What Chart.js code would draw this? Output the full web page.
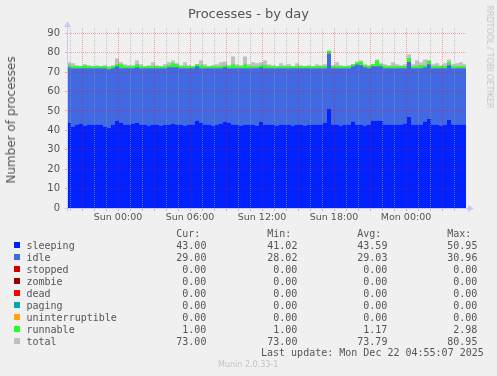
<!DOCTYPE html>
<html>
<head>
<meta charset="utf-8">
<title>Processes - by day</title>
<script src="https://cdn.jsdelivr.net/npm/chart.js@4.4.1/dist/chart.umd.min.js"></script>
<style>
  html, body { margin: 0; padding: 0; background: #f0f0f0; }
  #graph { position: relative; width: 497px; height: 376px; overflow: hidden; color: #555; font-family: "DejaVu Sans", sans-serif; }
  #graph canvas { position: absolute; left: 0; top: 0; }
  .txt { position: absolute; white-space: pre; }
  .mono { font-family: "DejaVu Sans Mono", monospace; font-size: 10px; line-height: 12px; }
  .num { width: 30.1px; text-align: right; }
  .swatch { position: absolute; width: 6px; height: 6px; }
</style>
</head>
<body>
<div id="graph">
  <canvas id="chart" width="497" height="376"></canvas>
  <div class="txt" style="left:0;width:497px;top:6px;text-align:center;font-size:13px;line-height:15px;">Processes - by day</div>
  <div class="txt" style="left:10.5px;top:120px;font-size:12px;line-height:14px;transform:translate(-50%,-50%) rotate(-90deg);">Number of processes</div>
  <div class="txt" style="left:489px;top:57px;font-size:8px;line-height:10px;color:#c4c4c4;transform:translate(-50%,-50%) rotate(90deg);">RRDTOOL / TOBI OETIKER</div>
  <div id="legend"></div>
  <div class="txt mono" style="left:261px;top:346.5px;">Last update: Mon Dec 22 04:55:07 2025</div>
  <div class="txt" style="left:218px;top:361px;font-size:8px;line-height:8px;color:#c4c4c4;">Munin 2.0.33-1</div>
</div>
<script>
'use strict';

/* ── Time grid (minutes relative to Sun 00:00) ─────────────── */
const START_MIN = -255;   // Sat 19:45
const END_MIN   = 1740;   // Mon 05:00
const STEP_MIN  = 20;

const xTickMinutes = [0, 360, 720, 1080, 1440];
const xTickLabels  = ['Sun 00:00', 'Sun 06:00', 'Sun 12:00', 'Sun 18:00', 'Mon 00:00'];
const yTickValues  = [0, 10, 20, 30, 40, 50, 60, 70, 80, 90];

/* ── Series (one sample per 20 min) ────────────────────────── */
const sleeping = [
  44, 42, 43, 43.5, 42.5, 43, 43, 43, 43, 42,
  41.5, 43, 45, 44, 43, 43, 43.5, 44, 43, 43,
  42.5, 43, 43, 42.5, 43, 43, 43.5, 43, 43, 42.5,
  43, 43, 45, 44, 43, 43, 42.5, 43, 43.5, 44.5,
  44, 43, 43, 42.5, 43, 43, 43, 42.5, 44.5, 43,
  43, 43, 42.5, 43, 43, 43, 42.5, 43, 43, 42.5,
  43, 43, 43, 43, 44, 50.95, 43, 43, 42.5, 43,
  43, 44.5, 43, 43, 42.5, 43, 45, 45, 45, 43,
  43, 43, 43, 43, 43.5, 47, 43, 43, 43, 44.5,
  46, 43, 43, 42.5, 43, 45.5, 43, 43, 43, 43,
  43
];
const idle = [
  28.5, 30, 29, 28.5, 29.5, 29, 29, 29, 29, 30,
  30, 29, 28, 28, 29, 29, 28.5, 28.5, 29, 29,
  29.5, 29, 29, 29.5, 29, 29.5, 29, 29.5, 29, 29.5,
  29, 29, 28, 28, 29, 29, 29.5, 29, 28.5, 28,
  28, 29, 29, 29.5, 29, 29, 29, 29.5, 28, 29,
  29, 29, 29.5, 29, 29, 29, 29.5, 29, 29, 29.5,
  29, 29, 29, 29, 28, 28.5, 29, 29, 29.5, 29,
  29, 28.5, 30.96, 30.5, 30, 29, 28, 28, 28, 29,
  29, 29, 29, 29, 28.5, 28.2, 29, 29, 29, 28,
  28, 29, 29, 29.5, 29, 28, 29, 29, 29, 29,
  29
];
const runnable = [
  1, 1, 1, 1, 1.5, 1, 1, 1, 1, 1,
  1, 1, 1, 2, 1, 1, 1, 1.5, 1, 1,
  1, 1, 1, 1, 1, 1, 2, 1.5, 1, 1,
  1, 1, 1, 1.5, 1, 1, 1, 1, 1, 1,
  1, 2, 1, 1, 2, 1, 1, 1, 1, 1.5,
  1, 1, 1, 1, 1, 1, 1, 1, 1, 1,
  1, 1, 1, 1, 1, 1.5, 1, 1, 1, 1,
  1, 1, 1, 2, 1, 1, 1, 2.98, 1, 1,
  1, 1, 1, 1, 1, 2, 1, 1, 1.5, 1,
  2, 1, 1, 1, 1, 1.5, 1, 1, 1, 1,
  1
];
const total = [
  75, 74.5, 73.5, 73, 74, 73.5, 73, 73.5, 73, 73.5,
  73, 73.5, 77, 75, 74, 73.5, 73.5, 76, 74, 73,
  73.5, 75, 73.5, 73, 74, 75, 76, 74.5, 73.5, 75,
  73.5, 73, 74, 76, 74, 73, 73.5, 74, 75, 75.5,
  73.5, 78, 74, 73.5, 78, 74, 75, 74.5, 75, 76,
  74, 73.5, 73, 74.5, 73.5, 74, 73, 74.5, 73.5, 73,
  73.5, 73, 74, 73.5, 74, 80.95, 73.5, 75, 73.5, 73,
  73.5, 74, 75.5, 76, 74, 73.5, 74, 76.5, 74.5, 74,
  73.5, 75, 74, 73.5, 74, 79, 74, 76, 75, 76.5,
  76, 74, 74.5, 73.5, 74.5, 76.5, 74, 74.5, 75, 74,
  74
];

/* ── Legend table ──────────────────────────────────────────── */
const seriesNames  = ['sleeping', 'idle', 'stopped', 'zombie', 'dead', 'paging', 'uninterruptible', 'runnable', 'total'];
const seriesColors = ['#0022ff', '#4169e1', '#cc0000', '#990000', '#ff0000', '#00aaaa', '#ffa500', '#22ff22', '#c0c0c0'];
const curText = ['43.00', '29.00', '0.00', '0.00', '0.00', '0.00', '0.00', '1.00', '73.00'];
const minText = ['41.02', '28.02', '0.00', '0.00', '0.00', '0.00', '0.00', '1.00', '73.00'];
const avgText = ['43.59', '29.03', '0.00', '0.00', '0.00', '0.00', '0.00', '1.17', '73.79'];
const maxText = ['50.95', '30.96', '0.00', '0.00', '0.00', '0.00', '0.00', '2.98', '80.95'];

const RED  = 'rgba(255,0,0,0.35)';
const GRAY = 'rgba(160,160,160,0.55)';
const AXIS = '#c6ccf0';

function colorOf(name) { return seriesColors[seriesNames.indexOf(name)]; }

function buildLegend() {
  const box = document.getElementById('legend');
  const cols = [
    { head: 'Cur:', left: 176.3, vals: curText },
    { head: 'Min:', left: 267.3, vals: minText },
    { head: 'Avg:', left: 357.3, vals: avgText },
    { head: 'Max:', left: 447.3, vals: maxText },
  ];
  const rowTop = 239.5, pitch = 12;
  let html = '';
  for (const c of cols) {
    html += `<div class="txt mono" style="left:${c.left}px;top:${rowTop - pitch}px;">${c.head}</div>`;
  }
  seriesNames.forEach((name, i) => {
    const top = rowTop + i * pitch;
    html += `<div class="swatch" style="left:14px;top:${242 + i * pitch}px;background:${seriesColors[i]};"></div>`;
    html += `<div class="txt mono" style="left:26.5px;top:${top}px;">${name}</div>`;
    for (const c of cols) {
      html += `<div class="txt mono num" style="left:${c.left}px;top:${top}px;">${c.vals[i]}</div>`;
    }
  });
  box.innerHTML = html;
}
buildLegend();

/* ── Axis lines with arrows (rrdtool style) ────────────────── */
const axisArrows = {
  id: 'axisArrows',
  afterDraw(chart) {
    const { ctx, chartArea: a } = chart;
    const yb = Math.round(a.bottom) + 0.5;
    const xl = Math.round(a.left) + 0.5;
    ctx.save();
    ctx.strokeStyle = AXIS;
    ctx.fillStyle = AXIS;
    ctx.lineWidth = 1;
    ctx.beginPath();
    ctx.moveTo(xl - 3, yb); ctx.lineTo(a.right + 3, yb);
    ctx.moveTo(xl, yb + 3); ctx.lineTo(xl, a.top - 2);
    ctx.stroke();
    ctx.beginPath();
    ctx.moveTo(a.right + 8, yb); ctx.lineTo(a.right + 2, yb - 3.5); ctx.lineTo(a.right + 2, yb + 3.5);
    ctx.closePath(); ctx.fill();
    ctx.beginPath();
    ctx.moveTo(xl, a.top - 7); ctx.lineTo(xl - 3.5, a.top - 1); ctx.lineTo(xl + 3.5, a.top - 1);
    ctx.closePath(); ctx.fill();
    ctx.restore();
  }
};

const sampleMinutes = sleeping.map((_, i) => START_MIN + i * STEP_MIN);
const hourMarks = [];
for (let m = -240; m < END_MIN; m += 60) hourMarks.push(m);
const yMarks = [];
for (let v = 0; v <= 90; v += 5) yMarks.push(v);

const area = (label, data, fill, extra = {}) => Object.assign({
  label, data, fill,
  backgroundColor: colorOf(label),
  borderColor: colorOf(label),
  borderWidth: 0,
  pointRadius: 0,
  stepped: true,
}, extra);

new Chart(document.getElementById('chart').getContext('2d'), {
  type: 'line',
  data: {
    labels: sampleMinutes,
    datasets: [
      area('sleeping', sleeping, 'origin'),
      area('idle', idle, '-1'),
      area('runnable', runnable, '-1'),
      area('total', total, 'origin', { stack: 'total' }),
    ],
  },
  options: {
    responsive: false,
    animation: false,
    events: [],
    layout: { padding: { left: 0, top: 28, right: 31, bottom: 148 } },
    plugins: { legend: { display: false }, tooltip: { enabled: false } },
    scales: {
      x: {
        type: 'linear',
        min: START_MIN, max: END_MIN,
        afterFit: s => { s.height = 20; },
        afterBuildTicks: s => { s.ticks = hourMarks.map(v => ({ value: v })); },
        grid: {
          z: 1,
          color: c => (c.tick && c.tick.value % 180 === 0) ? RED : GRAY,
          tickLength: 3,
          tickBorderDash: [],
        },
        border: { display: false, dash: [1, 1] },
        ticks: {
          autoSkip: false, maxRotation: 0, padding: 1,
          color: '#555',
          font: { family: 'DejaVu Sans', size: 9.5 },
          callback: v => {
            const k = xTickMinutes.indexOf(v);
            return k >= 0 ? xTickLabels[k] : '';
          },
        },
      },
      y: {
        stacked: true,
        min: 0, max: 92.7,
        afterFit: s => { s.width = 67; },
        afterBuildTicks: s => { s.ticks = yMarks.map(v => ({ value: v })); },
        grid: {
          z: 1,
          color: c => {
            const v = c.tick ? c.tick.value : 0;
            if (v === 0) return 'rgba(0,0,0,0)';
            return v % 10 === 0 ? RED : GRAY;
          },
          tickLength: 2,
          tickBorderDash: [],
        },
        border: { display: false, dash: [1, 1] },
        ticks: {
          padding: 5,
          color: '#555',
          font: { family: 'DejaVu Sans', size: 10 },
          callback: v => yTickValues.includes(v) ? String(v) : '',
        },
      },
    },
  },
  plugins: [axisArrows],
});
</script>
</body>
</html>
